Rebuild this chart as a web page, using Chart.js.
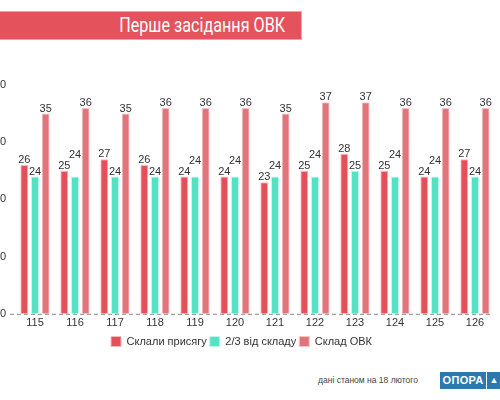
<!DOCTYPE html>
<html>
<head>
<meta charset="utf-8">
<script src="https://cdn.jsdelivr.net/npm/chart.js@4"></script>
<style>
  body { margin: 0; width: 500px; height: 400px; overflow: hidden; background: #fff; position: relative; font-family: "Liberation Sans", Arial, sans-serif; }
  #wrap { position: absolute; left: -12px; top: 0; width: 512px; height: 357px; }
  #banner { position: absolute; left: 0; top: 11px; width: 302px; height: 29px; background: #e4525b; border: 1px solid #f0a2a7; border-left: none; box-sizing: border-box; text-align: right; }
  #banner span { display: inline-block; color: #fff; font-family: Roboto, sans-serif; font-size: 21px; line-height: 27px; padding-right: 20px; transform: scaleX(0.77); transform-origin: right center; }
  #note { position: absolute; left: 318px; top: 375px; font-size: 8.5px; color: #444; }
  #logo { position: absolute; left: 440px; top: 372px; height: 17px; display: flex; }
  #logo .a { background: #2b79af; color: #fff; font-weight: bold; font-size: 11px; line-height: 17px; width: 46px; text-align: center; letter-spacing: 0.3px; }
  #logo .b { background: #2b79af; color: #fff; font-size: 9px; line-height: 17px; margin-left: 1px; width: 14px; text-align: center; }
</style>
</head>
<body>
<div id="banner"><span>Перше засідання ОВК</span></div>
<div id="wrap"><canvas id="myChart"></canvas></div>
<div id="note">дані станом на 18 лютого</div>
<div id="logo"><div class="a">ОПОРА</div><div class="b">▲</div></div>
<script>
// Дані
const districts = ["115", "116", "117", "118", "119", "120", "121", "122", "123", "124", "125", "126"];
const sworn = [26, 25, 27, 26, 24, 24, 23, 25, 28, 25, 24, 27];
const twoThirds = [24, 24, 24, 24, 24, 24, 24, 24, 25, 24, 24, 24];
const members = [35, 36, 35, 36, 36, 36, 35, 37, 37, 36, 36, 36];
const yMax = 40;
const yStep = 10;

// підписи над стовпчиками, зсув вгору при накладанні
const valueLabels = {
  id: "valueLabels",
  afterDatasetsDraw(chart) {
    const ctx = chart.ctx;
    ctx.save();
    ctx.font = "11px 'Liberation Sans', Arial, sans-serif";
    ctx.fillStyle = "#333";
    ctx.textAlign = "center";
    ctx.textBaseline = "alphabetic";
    const n = chart.data.labels.length;
    for (let i = 0; i < n; i++) {
      const boxes = [];
      chart.data.datasets.forEach((ds, d) => {
        const bar = chart.getDatasetMeta(d).data[i];
        const txt = String(ds.data[i]);
        const w = ctx.measureText(txt).width;
        let base = bar.y - 2;
        let moved = true;
        while (moved) {
          moved = false;
          for (const b of boxes) {
            const top = base - 9, bottom = base + 1;
            const l = bar.x - w / 2, r = bar.x + w / 2;
            if (l < b.r && r > b.l && top < b.bottom && bottom > b.top) {
              base = b.top - 2;
              moved = true;
            }
          }
        }
        boxes.push({ l: bar.x - w / 2, r: bar.x + w / 2, top: base - 9, bottom: base + 1 });
        ctx.fillText(txt, bar.x, base);
      });
    }
    ctx.restore();
  },
};

// пунктирна лінія нуля
const zeroLine = {
  id: "zeroLine",
  beforeDatasetsDraw(chart) {
    const ctx = chart.ctx;
    const y = chart.scales.y.getPixelForValue(0);
    ctx.save();
    ctx.strokeStyle = "#888";
    ctx.lineWidth = 1;
    ctx.setLineDash([4, 3]);
    ctx.beginPath();
    ctx.moveTo(chart.chartArea.left - 5, y + 0.5);
    ctx.lineTo(chart.chartArea.right - 5, y + 0.5);
    ctx.stroke();
    ctx.restore();
  },
};

Chart.defaults.font.family = "'Liberation Sans', Arial, sans-serif";
Chart.defaults.font.size = 11;
Chart.defaults.color = "#333";

const ctx = document.getElementById("myChart").getContext("2d");
new Chart(ctx, {
  type: "bar",
  data: {
    labels: districts,
    datasets: [
      { label: "Склали присягу", data: sworn, backgroundColor: "#e4505a", borderColor: "#f6b9bc", borderWidth: 1 },
      { label: "2/3 від складу", data: twoThirds, backgroundColor: "#52e3c2", borderColor: "#c2f6ea", borderWidth: 1 },
      { label: "Склад ОВК", data: members, backgroundColor: "#df757b", borderColor: "#f5c6c9", borderWidth: 1 },
    ],
  },
  options: {
    responsive: true,
    maintainAspectRatio: false,
    animation: false,
    categoryPercentage: 0.8,
    barPercentage: 0.75,
    layout: { padding: { top: 85, right: 5, left: 0, bottom: 0 } },
    plugins: {
      legend: {
        position: "bottom",
        labels: { boxWidth: 10, boxHeight: 10, padding: 3, font: { size: 11 } },
      },
      tooltip: { enabled: false },
    },
    scales: {
      x: {
        grid: { display: false, drawTicks: false },
        border: { display: false },
        ticks: { padding: 3 },
      },
      y: {
        min: 0,
        max: yMax,
        afterFit(scale) { scale.width = 27; },
        grid: { display: false, drawTicks: false },
        border: { display: false },
        ticks: { stepSize: yStep, padding: 9 },
      },
    },
  },
  plugins: [valueLabels, zeroLine],
});
</script>
</body>
</html>
